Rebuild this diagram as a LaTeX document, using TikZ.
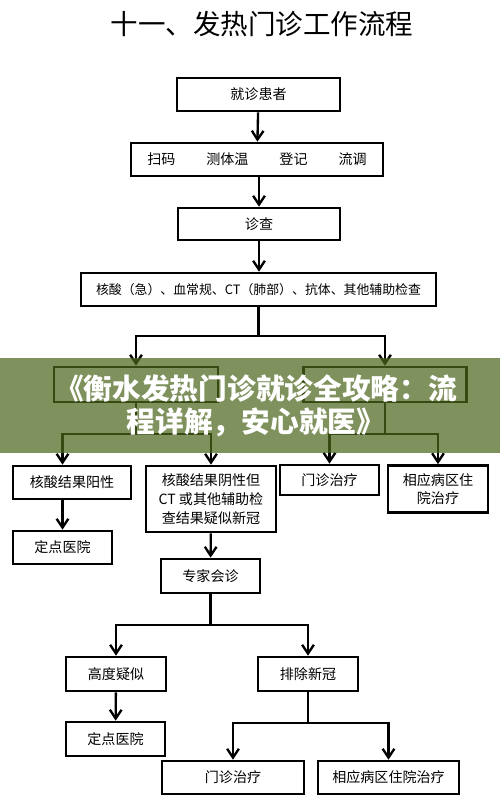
\documentclass[tikz,border=0pt]{standalone}
\usepackage{fontspec}
\setmainfont{Noto Sans CJK SC}
\usepackage{xcolor}
\usetikzlibrary{arrows.meta}
\definecolor{bannergreen}{RGB}{77,103,29}

\begin{document}
\begin{tikzpicture}[x=0.03cm,y=-0.03cm,
	box/.style={draw, line width=2.3pt, inner sep=0pt, align=center, font=\fontsize{12}{16}\selectfont},
	flow/.style={line width=2pt, -{Straight Barb[length=7.5pt,width=10pt,line width=2pt]}},
	link/.style={line width=2pt}]
	\useasboundingbox (0,0) rectangle (500,812);
	\node[font=\fontsize{23.5}{26}\selectfont] (title) at (262,24) {十一、发热门诊工作流程};
	% upper chain
	\node[box, minimum width=4.89cm, minimum height=0.99cm] (patient) at (258.5,94.5) {就诊患者};
	\node[box, minimum width=7.56cm, minimum height=0.99cm] (reg) at (257,159.5) {扫码\hspace{2.2em}测体温\hspace{2.2em}登记\hspace{2.2em}流调};
	\node[box, minimum width=4.86cm, minimum height=0.96cm] (exam) at (259,224) {诊查};
	\node[box, minimum width=10.65cm, minimum height=0.99cm, font=\fontsize{11}{14}\selectfont] (tests) at (258.5,289.5) {核酸（急）、血常规、CT（肺部）、抗体、其他辅助检查};
	\node[box, minimum width=4.92cm, minimum height=1.05cm] (hidL) at (136,384.5) {};
	\node[box, minimum width=4.89cm, minimum height=1.05cm] (hidR) at (385,384.5) {};
	% result row
	\node[box, minimum width=3.54cm, minimum height=0.99cm] (pos) at (72,482.5) {核酸结果阳性};
	\node[box, minimum width=3.9cm, minimum height=1.98cm] (neg) at (211,499) {核酸结果阴性但\\CT 或其他辅助检\\查结果疑似新冠};
	\node[box, minimum width=2.97cm, minimum height=0.9cm] (clinicA) at (329.5,480) {门诊治疗};
	\node[box, minimum width=3.0cm, minimum height=1.41cm] (wardA) at (438,489) {相应病区住\\院治疗};
	\node[box, minimum width=2.97cm, minimum height=0.99cm] (fixedA) at (62.5,547.5) {定点医院};
	\node[box, minimum width=2.97cm, minimum height=1.02cm] (expert) at (210.5,576) {专家会诊};
	% lower chain
	\node[box, minimum width=3.0cm, minimum height=1.02cm] (high) at (116,674) {高度疑似};
	\node[box, minimum width=3.0cm, minimum height=1.02cm] (excl) at (308,674) {排除新冠};
	\node[box, minimum width=2.97cm, minimum height=1.02cm] (fixedB) at (115.5,739) {定点医院};
	\node[box, minimum width=4.26cm, minimum height=0.99cm] (clinicB) at (233,777.5) {门诊治疗};
	\node[box, minimum width=4.23cm, minimum height=0.99cm] (wardB) at (388.5,777.5) {相应病区住院治疗};
	% junctions
	\coordinate (j1) at (258.5,336);
	\coordinate (j2) at (136,434);
	\coordinate (j3) at (385,434);
	\coordinate (j4) at (210.5,625);
	\coordinate (j5) at (308,723);
	% connectors
	\draw[flow] (patient) -- (reg);
	\draw[flow] (reg.south -| exam) -- (exam);
	\draw[flow] (exam) -- (tests.north -| exam);
	\draw[link] (tests.south -| j1) -- (j1);
	\draw[flow] (j1) -| (hidL.north);
	\draw[flow] (j1) -| (hidR.north);
	\draw[link] (hidL) -- (j2);
	\draw[flow] (j2) -| (fixedA.north |- pos.north);
	\draw[flow] (j2) -| (neg.north);
	\draw[link] (hidR) -- (j3);
	\draw[flow] (j3) -| (clinicA.north);
	\draw[flow] (j3) -| (wardA.north);
	\draw[flow] (fixedA.north |- pos.south) -- (fixedA);
	\draw[flow] (neg) -- (expert);
	\draw[link] (expert) -- (j4);
	\draw[flow] (j4) -| (high.north);
	\draw[flow] (j4) -| (excl.north);
	\draw[flow] (high) -- (fixedB);
	\draw[link] (excl) -- (j5);
	\draw[flow] (j5) -| (clinicB.north);
	\draw[flow] (j5) -| (wardB.north);
	% banner on top
	\fill[bannergreen, opacity=0.72] (0,358) rectangle (500,453);
	\node[text=white, align=center, font=\fontsize{24.5}{28}\selectfont\bfseries] (banner) at (256,406) {《衡水发热门诊就诊全攻略：流\\程详解，安心就医》};
\end{tikzpicture}
\end{document}
